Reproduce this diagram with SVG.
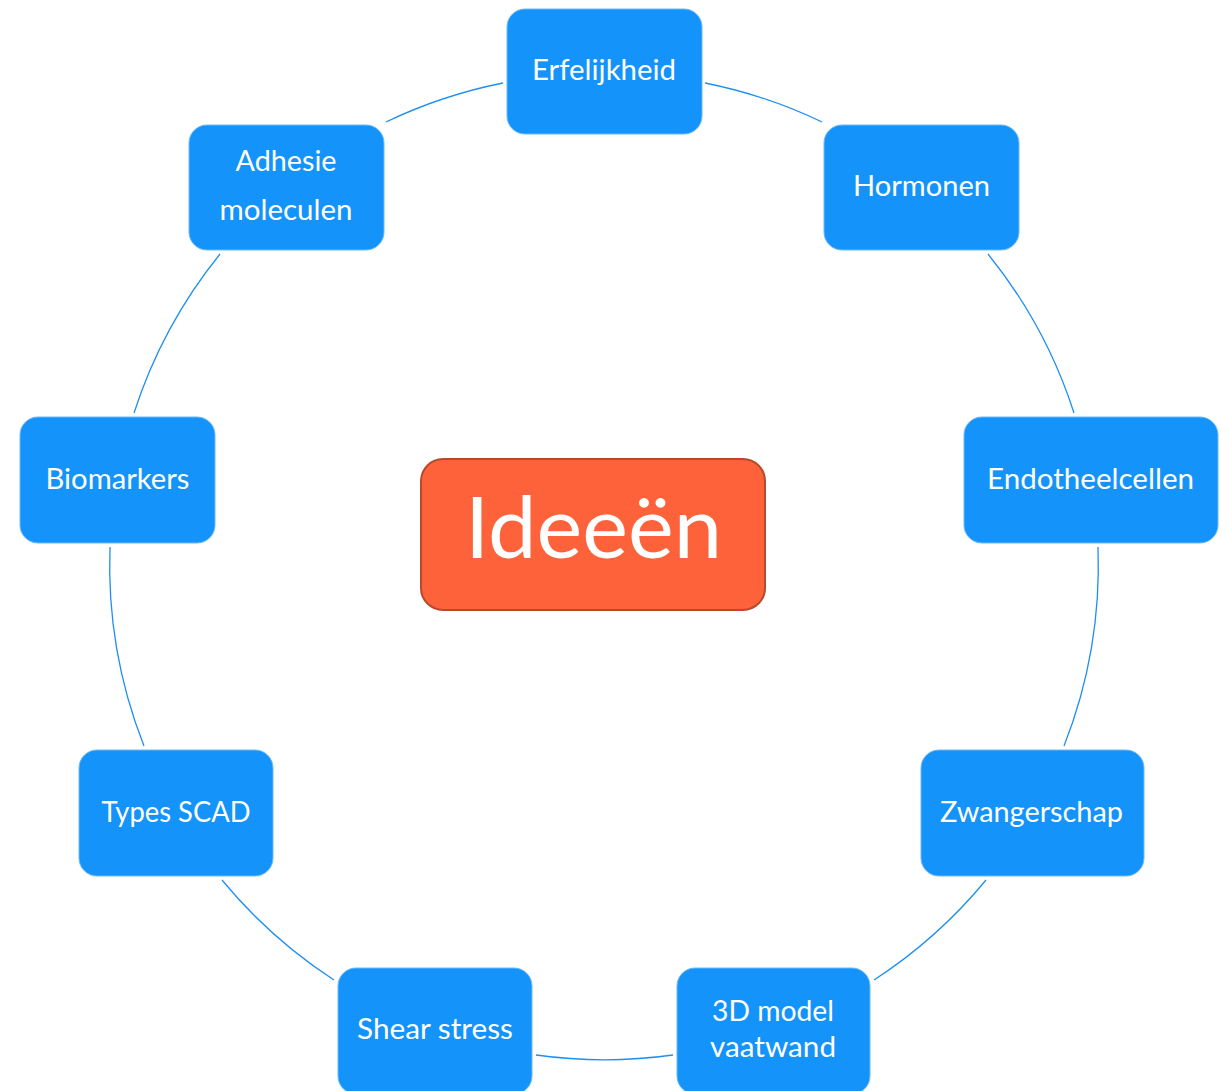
<svg xmlns="http://www.w3.org/2000/svg" width="1228" height="1091" viewBox="0 0 1228 1091">
<style>
.box{fill:#1493FB;stroke:#6DB9F7;stroke-width:1}
.lbl{font-family:Lato,"Liberation Sans",sans-serif;font-size:28px;fill:#ffffff;text-anchor:middle}
.arc{fill:none;stroke:#1E8FF2;stroke-width:1.3}
.center{fill:#FE623A;stroke:#B84A2C;stroke-width:2}
.big{font-family:Lato,"Liberation Sans",sans-serif;font-size:86px;fill:#ffffff;text-anchor:middle}
</style>
<rect x="0" y="0" width="1228" height="1091" fill="#ffffff"/>
<g id="connectors">
<path class="arc" d="M705,83 A494,494 0 0 1 822,122"/>
<path class="arc" d="M988,254 A494,494 0 0 1 1074,413"/>
<path class="arc" d="M1098,547 A494,494 0 0 1 1064,746"/>
<path class="arc" d="M986,880 A494,494 0 0 1 874,980"/>
<path class="arc" d="M673,1055 A494,494 0 0 1 536,1055"/>
<path class="arc" d="M334,980 A494,494 0 0 1 222,880"/>
<path class="arc" d="M144,746 A494,494 0 0 1 110,547"/>
<path class="arc" d="M134,413 A494,494 0 0 1 220,254"/>
<path class="arc" d="M386,122 A494,494 0 0 1 503,83"/>
</g>
<g id="ideeen">
<rect class="center" x="421" y="459" width="344" height="151" rx="22"/>
<text class="big" x="593.5" y="558" textLength="257" lengthAdjust="spacingAndGlyphs">Ideeën</text>
</g>
<g id="erfelijkheid">
<rect class="box" x="507" y="9" width="195" height="125" rx="18"/>
<text class="lbl" x="604" y="80" textLength="144" lengthAdjust="spacingAndGlyphs">Erfelijkheid</text>
</g>
<g id="hormonen">
<rect class="box" x="824" y="125" width="195" height="125" rx="18"/>
<text class="lbl" x="921.5" y="196" textLength="137" lengthAdjust="spacingAndGlyphs">Hormonen</text>
</g>
<g id="endotheelcellen">
<rect class="box" x="964" y="417" width="254" height="126" rx="18"/>
<text class="lbl" x="1090.5" y="489" textLength="207" lengthAdjust="spacingAndGlyphs">Endotheelcellen</text>
</g>
<g id="zwangerschap">
<rect class="box" x="921" y="750" width="223" height="126" rx="18"/>
<text class="lbl" x="1031.5" y="822" textLength="183" lengthAdjust="spacingAndGlyphs">Zwangerschap</text>
</g>
<g id="model3d">
<rect class="box" x="677" y="968" width="193" height="126" rx="18"/>
<text class="lbl" x="773" y="1021" textLength="122" lengthAdjust="spacingAndGlyphs">3D model</text>
<text class="lbl" x="773" y="1057" textLength="126" lengthAdjust="spacingAndGlyphs">vaatwand</text>
</g>
<g id="shearstress">
<rect class="box" x="338" y="968" width="194" height="126" rx="18"/>
<text class="lbl" x="435" y="1039" textLength="156" lengthAdjust="spacingAndGlyphs">Shear stress</text>
</g>
<g id="typesscad">
<rect class="box" x="79" y="750" width="194" height="126" rx="18"/>
<text class="lbl" x="176" y="822" textLength="149" lengthAdjust="spacingAndGlyphs">Types SCAD</text>
</g>
<g id="biomarkers">
<rect class="box" x="20" y="417" width="195" height="126" rx="18"/>
<text class="lbl" x="117.5" y="489" textLength="144" lengthAdjust="spacingAndGlyphs">Biomarkers</text>
</g>
<g id="adhesie">
<rect class="box" x="189" y="125" width="195" height="125" rx="18"/>
<text class="lbl" x="286" y="171" textLength="101" lengthAdjust="spacingAndGlyphs">Adhesie</text>
<text class="lbl" x="286" y="220" textLength="133" lengthAdjust="spacingAndGlyphs">moleculen</text>
</g>
</svg>
